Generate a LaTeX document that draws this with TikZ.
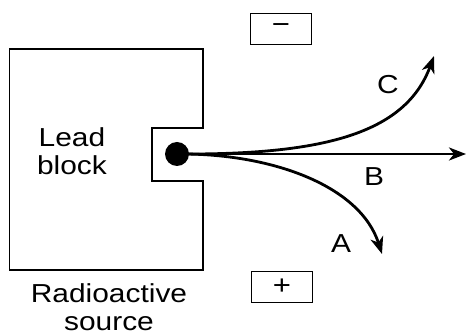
\documentclass[tikz,border=0pt]{standalone}
\usepackage{fontspec}
\setmainfont{Liberation Sans}[FakeStretch=1.15]
\usepackage{tikz}
\usetikzlibrary{arrows.meta}
\tikzset{
  rs label/.style={
    font=\fontsize{26}{28}\selectfont,
    inner sep=0pt,
    align=center,
  },
  rs letter/.style={
    font=\fontsize{26}{28}\selectfont,
    inner sep=0pt,
  },
  rs plate/.style={
    rectangle,
    draw,
    line width=1.5pt,
    minimum width=61pt,
    minimum height=31pt,
    font=\fontsize{27}{28}\selectfont,
    inner sep=0pt,
  },
  rs source/.style={circle, fill=black, minimum size=24pt, inner sep=0pt},
  rs ray/.style={-{Stealth[length=17pt,width=13pt,inset=5pt]}, line width=2.8pt},
  rs block/.style={line width=1.5pt},
}

\begin{document}
\begin{tikzpicture}[x=1pt,y=-1pt]
  \useasboundingbox (0,0) rectangle (466,336);

  % lead block with its slot
  \draw[rs block] (203,128) -- (203,49) -- (9.5,49) -- (9.5,270) -- (203,270)
    -- (203,181) -- (152,181) -- (152,128) -- cycle;

  \node[rs label] (lead) at (72,151) {Lead\\block};
  \node[rs label] (src) at (109,307) {Radioactive\\source};

  \node[rs plate] (minus) at (281,29) {−};
  \node[rs plate] (plus) at (282,287) {+};

  \node[rs source] (dot) at (177,154) {};

  \coordinate (tipB) at (466,154);
  \coordinate (tipC) at (434,56);
  \coordinate (tipA) at (382,254);

  \draw[rs ray] (dot.center) -- (tipB);
  \draw[rs ray] (dot.center) .. controls (320,155) and (405,135) .. (tipC);
  \draw[rs ray] (dot.center) .. controls (270,153) and (360,185) .. (tipA);

  \node[rs letter] (labC) at (388,85) {C};
  \node[rs letter] (labB) at (374,177) {B};
  \node[rs letter] (labA) at (341,244) {A};
\end{tikzpicture}
\end{document}
